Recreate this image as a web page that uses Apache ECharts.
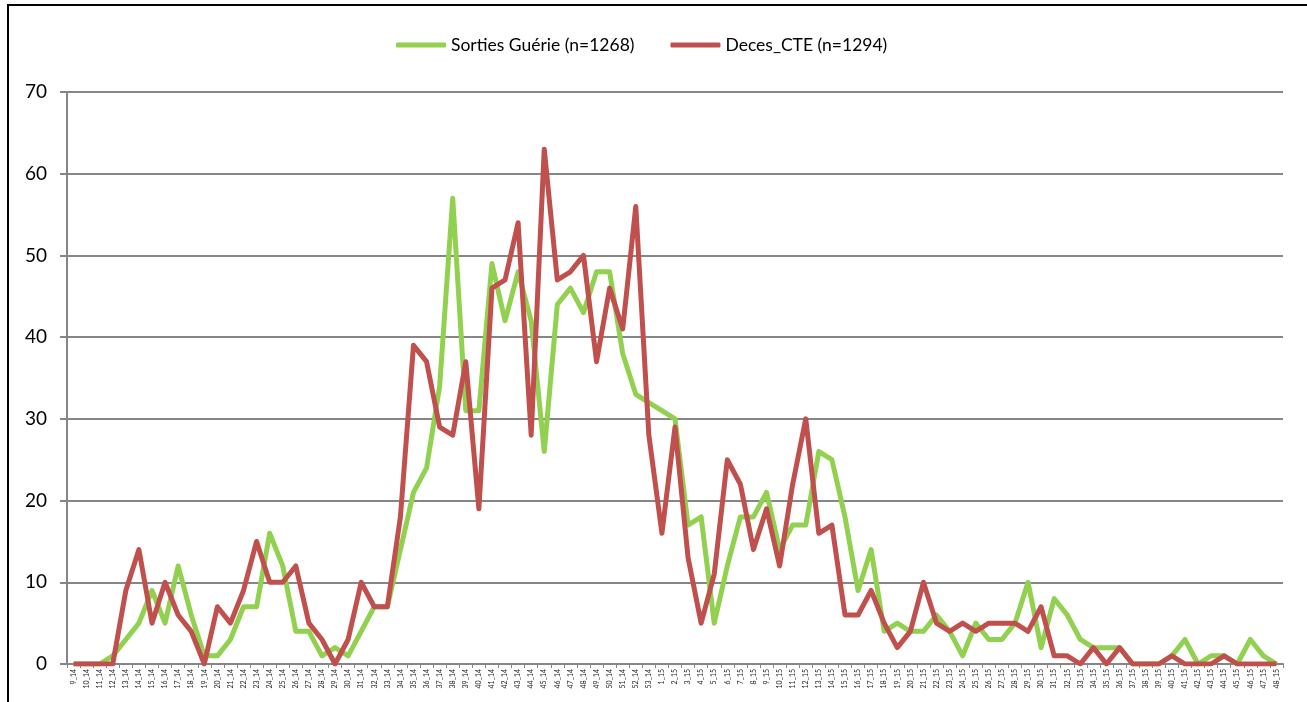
<!DOCTYPE html>
<html>
<head>
<meta charset="utf-8">
<script src="https://cdn.jsdelivr.net/npm/echarts@6/dist/echarts.min.js"></script>
<style>
html,body{margin:0;padding:0;background:#fff;}
#chart{width:1307px;height:702px;}
</style>
</head>
<body>
<div id="chart"></div>
<script>
const weeks14 = ['9_14','10_14','11_14','12_14','13_14','14_14','15_14','16_14','17_14','18_14','19_14','20_14','21_14','22_14','23_14','24_14','25_14','26_14','27_14','28_14','29_14','30_14','31_14','32_14','33_14','34_14','35_14','36_14','37_14','38_14','39_14','40_14','41_14','42_14','43_14','44_14','45_14','46_14','47_14','48_14','49_14','50_14','51_14','52_14','53_14'];
const weeks15 = ['1_15','2_15','3_15','4_15','5_15','6_15','7_15','8_15','9_15','10_15','11_15','12_15','13_15','14_15','15_15','16_15','17_15','18_15','19_15','20_15','21_15','22_15','23_15','24_15','25_15','26_15','27_15','28_15','29_15','30_15','31_15','32_15','33_15','34_15','35_15','36_15','37_15','38_15','39_15','40_15','41_15','42_15','43_15','44_15','45_15','46_15','47_15','48_15'];
const categories = weeks14.concat(weeks15);

const sortiesGuerie = [0,0,0,1,3,5,9,5,12,6, 1,1,3,7,7,16,12,4,4,1, 2,1,4,7,7,14,21,24,34,57, 31,31,49,42,48,42,26,44,46,43, 48,48,38,33,32,31,30,17,18,5, 12,18,18,21,14,17,17,26,25,18, 9,14,4,5,4,4,6,4,1,5, 3,3,5,10,2,8,6,3,2,2, 2,0,0,0,1,3,0,1,1,0,3,1,0];
const decesCTE = [0,0,0,0,9,14,5,10,6,4, 0,7,5,9,15,10,10,12,5,3, 0,3,10,7,7,18,39,37,29,28, 37,19,46,47,54,28,63,47,48,50, 37,46,41,56,28,16,29,13,5,11, 25,22,14,19,12,22,30,16,17,6, 6,9,5,2,4,10,5,4,5,4, 5,5,5,4,7,1,1,0,2,0, 2,0,0,0,1,0,0,0,1,0,0,0,0];

const seriesNames = ['Sorties Guérie (n=1268)', 'Deces_CTE (n=1294)'];
const yTicks = [0, 10, 20, 30, 40, 50, 60, 70];

const chart = echarts.init(document.getElementById('chart'));
const FONT = 'Lato, "Open Sans", sans-serif';
chart.setOption({
  animation: false,
  textStyle: { fontFamily: FONT },
  graphic: [{
    type: 'rect', z: -1,
    shape: { x: 8, y: 5, width: 1330, height: 750 },
    style: { fill: 'none', stroke: '#000', lineWidth: 2 }
  }],
  legend: {
    top: 31, left: 391,
    itemWidth: 50, itemHeight: 5, itemGap: 36,
    icon: 'roundRect',
    textStyle: { fontSize: 17.5, color: '#000', fontFamily: FONT },
    data: seriesNames
  },
  grid: { left: 67, right: 24, top: 92, bottom: 38, containLabel: false },
  xAxis: {
    type: 'category',
    data: categories,
    boundaryGap: true,
    axisLine: { lineStyle: { color: '#868686', width: 2 } },
    axisTick: { show: true, interval: 0, length: 4, lineStyle: { color: '#868686', width: 1 } },
    axisLabel: { interval: 0, rotate: 90, fontSize: 7, color: '#222', margin: 5, fontFamily: FONT }
  },
  yAxis: {
    type: 'value',
    min: yTicks[0], max: yTicks[yTicks.length - 1], interval: 10,
    axisLine: { show: true, lineStyle: { color: '#868686', width: 2 } },
    axisTick: { show: true, length: 7, lineStyle: { color: '#868686', width: 2 } },
    axisLabel: { fontSize: 19, color: '#000', margin: 20, fontFamily: FONT },
    splitLine: { lineStyle: { color: '#868686', width: 2 } }
  },
  series: [
    {
      name: seriesNames[0], type: 'line', data: sortiesGuerie,
      symbol: 'none', color: '#92D050',
      lineStyle: { width: 5, color: '#92D050', join: 'round' }
    },
    {
      name: seriesNames[1], type: 'line', data: decesCTE,
      symbol: 'none', color: '#C0504D',
      lineStyle: { width: 5, color: '#C0504D', join: 'round' }
    }
  ]
});
</script>
</body>
</html>
